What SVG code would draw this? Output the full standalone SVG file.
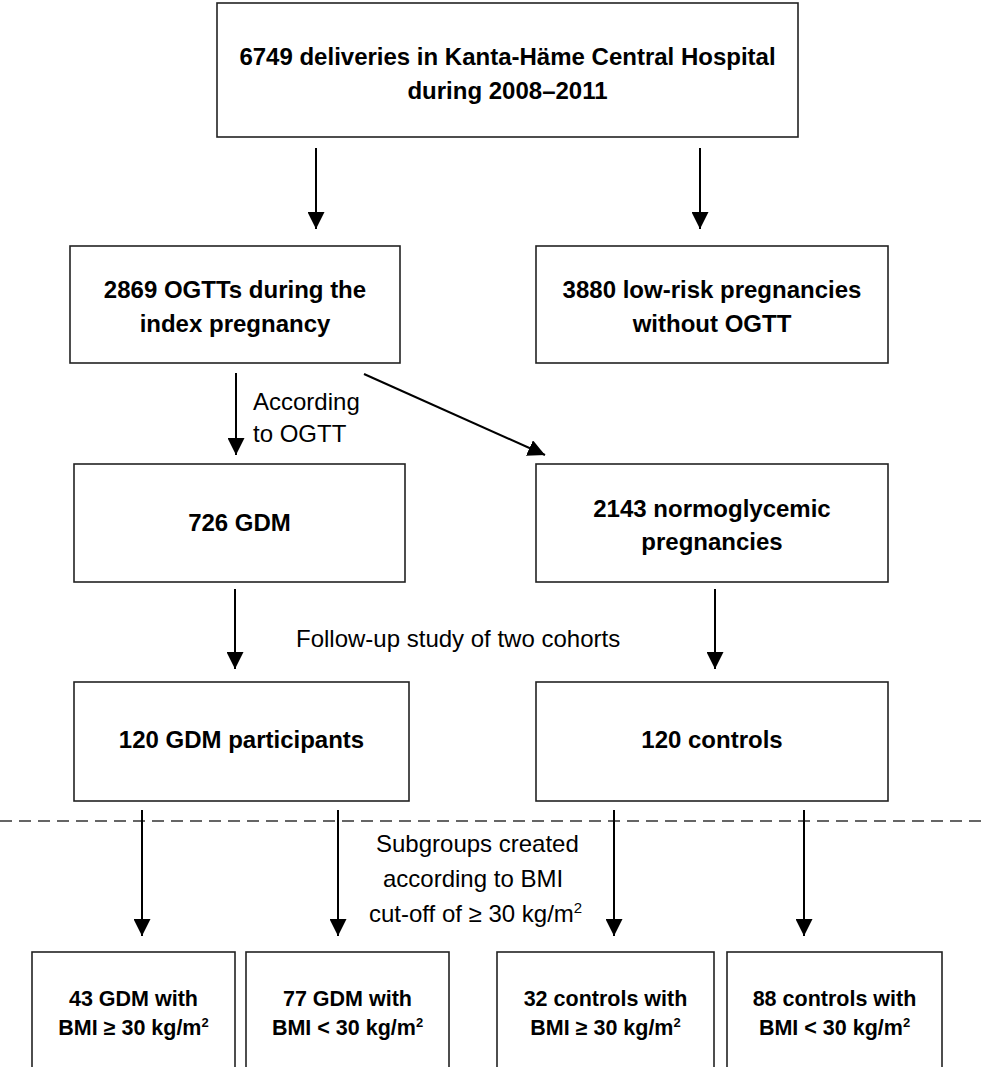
<svg xmlns="http://www.w3.org/2000/svg" width="987" height="1067" viewBox="0 0 987 1067">
<defs>
<style>
.box{fill:#fff;stroke:#222;stroke-width:1.6}
.bt{font-family:"Liberation Sans",Arial,sans-serif;font-weight:bold;font-size:24px;fill:#000;text-anchor:middle}
.st{font-family:"Liberation Sans",Arial,sans-serif;font-weight:bold;font-size:21.5px;fill:#000;text-anchor:middle}
.lb{font-family:"Liberation Sans",Arial,sans-serif;font-size:24px;fill:#000}
.ar{stroke:#000;stroke-width:2;fill:none;marker-end:url(#ah)}
.dash{stroke:#333;stroke-width:1.5;stroke-dasharray:12 7;fill:none}
</style>
<marker id="ah" markerUnits="userSpaceOnUse" markerWidth="17" markerHeight="17" refX="16" refY="8" orient="auto" viewBox="0 0 16 16">
<path d="M0,0 L16,8 L0,16 z" fill="#000"/>
</marker>
</defs>
<rect width="987" height="1067" fill="#fff"/>

<g id="connectors">
<line class="ar" x1="316" y1="148" x2="316" y2="229"/>
<line class="ar" x1="700" y1="148" x2="700" y2="229"/>
<line class="ar" x1="236" y1="373" x2="236" y2="455"/>
<line class="ar" x1="364" y1="374" x2="545" y2="455"/>
<line class="ar" x1="235" y1="589" x2="235" y2="669"/>
<line class="ar" x1="715" y1="589" x2="715" y2="669"/>
<line class="dash" x1="0" y1="821" x2="987" y2="821"/>
<line class="ar" x1="142" y1="810" x2="142" y2="936"/>
<line class="ar" x1="338" y1="810" x2="338" y2="936"/>
<line class="ar" x1="614" y1="810" x2="614" y2="936"/>
<line class="ar" x1="804" y1="810" x2="804" y2="936"/>
<text class="lb" x="253" y="410">According</text>
<text class="lb" x="253" y="442">to OGTT</text>
<text class="lb" x="296" y="647">Follow-up study of two cohorts</text>
<text class="lb" x="376" y="852">Subgroups created</text>
<text class="lb" x="383" y="887">according to BMI</text>
<text class="lb" x="369" y="922">cut-off of ≥ 30 kg/m<tspan font-size="15" dy="-9">2</tspan></text>
</g>

<g id="n-deliveries">
<rect class="box" x="217" y="3" width="581" height="134"/>
<text class="bt" x="507.5" y="65">6749 deliveries in Kanta-Häme Central Hospital</text>
<text class="bt" x="507.5" y="99">during 2008–2011</text>
</g>

<g id="n-ogtt">
<rect class="box" x="70" y="246" width="330" height="117"/>
<text class="bt" x="235" y="298">2869 OGTTs during the</text>
<text class="bt" x="235" y="332">index pregnancy</text>
</g>

<g id="n-lowrisk">
<rect class="box" x="536" y="246" width="352" height="117"/>
<text class="bt" x="712" y="298">3880 low-risk pregnancies</text>
<text class="bt" x="712" y="332">without OGTT</text>
</g>

<g id="n-gdm">
<rect class="box" x="74" y="464" width="331" height="118"/>
<text class="bt" x="239.5" y="531">726 GDM</text>
</g>

<g id="n-normo">
<rect class="box" x="536" y="464" width="352" height="118"/>
<text class="bt" x="712" y="517">2143 normoglycemic</text>
<text class="bt" x="712" y="550">pregnancies</text>
</g>

<g id="n-gdm120">
<rect class="box" x="74" y="682" width="335" height="119"/>
<text class="bt" x="241.5" y="748">120 GDM participants</text>
</g>

<g id="n-ctrl120">
<rect class="box" x="536" y="682" width="352" height="119"/>
<text class="bt" x="712" y="748">120 controls</text>
</g>

<g id="n-gdm-obese">
<rect class="box" x="32" y="952" width="203" height="130"/>
<text class="st" x="133.5" y="1006">43 GDM with</text>
<text class="st" x="133.5" y="1035">BMI ≥ 30 kg/m<tspan font-size="13" dy="-8">2</tspan></text>
</g>

<g id="n-gdm-nonobese">
<rect class="box" x="246" y="952" width="203" height="130"/>
<text class="st" x="347.5" y="1006">77 GDM with</text>
<text class="st" x="347.5" y="1035">BMI &lt; 30 kg/m<tspan font-size="13" dy="-8">2</tspan></text>
</g>

<g id="n-ctrl-obese">
<rect class="box" x="497" y="952" width="217" height="130"/>
<text class="st" x="605.5" y="1006">32 controls with</text>
<text class="st" x="605.5" y="1035">BMI ≥ 30 kg/m<tspan font-size="13" dy="-8">2</tspan></text>
</g>

<g id="n-ctrl-nonobese">
<rect class="box" x="727" y="952" width="215" height="130"/>
<text class="st" x="834.5" y="1006">88 controls with</text>
<text class="st" x="834.5" y="1035">BMI &lt; 30 kg/m<tspan font-size="13" dy="-8">2</tspan></text>
</g>
</svg>
